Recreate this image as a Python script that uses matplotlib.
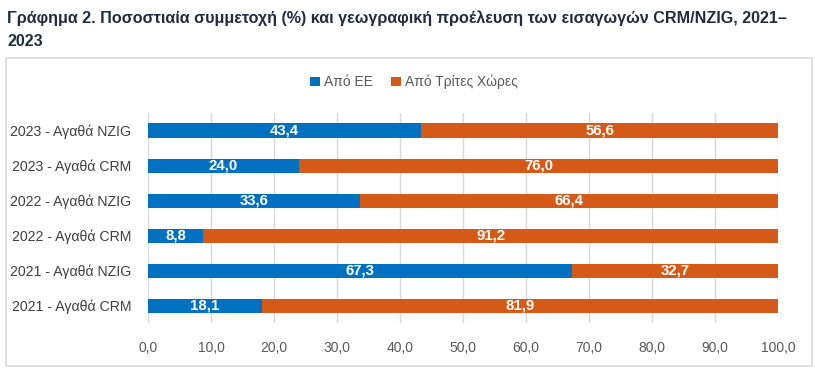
import matplotlib
matplotlib.use('Agg')
import matplotlib.pyplot as plt
from matplotlib.patches import Rectangle

# data
categories = ['2021 - Αγαθά CRM', '2021 - Αγαθά NZIG', '2022 - Αγαθά CRM',
              '2022 - Αγαθά NZIG', '2023 - Αγαθά CRM', '2023 - Αγαθά NZIG']
from_eu = [18.1, 67.3, 8.8, 33.6, 24.0, 43.4]
from_third = [81.9, 32.7, 91.2, 66.4, 76.0, 56.6]
series_names = ['Από ΕΕ', 'Από Τρίτες Χώρες']
xticks = [0, 10, 20, 30, 40, 50, 60, 70, 80, 90, 100]

blue = '#0070C0'
orange = '#D55A18'
title_col = '#1F2D3D'

plt.rcParams['font.family'] = ['Liberation Sans', 'DejaVu Sans']

fig = plt.figure(figsize=(8.15, 3.72), dpi=100)

# outer chart frame
fig.patches.append(Rectangle((6/815, 1-366/372), 806/815, 308/372, transform=fig.transFigure,
                             fill=False, edgecolor='#D9D9D9', linewidth=1.2))

fig.text(7/815, 1-18/372, 'Γράφημα 2. Ποσοστιαία συμμετοχή (%) και γεωγραφική προέλευση των εισαγωγών CRM/NZIG, 2021–',
         fontsize=11.6, fontweight='bold', color=title_col, va='center', ha='left')
fig.text(7/815, 1-42/372, '2023', fontsize=11.6, fontweight='bold', color=title_col, va='center', ha='left')

ax = fig.add_axes([148/815, 1-323/372, 630/815, 210/372])
y = list(range(len(categories)))
b1 = ax.barh(y, from_eu, height=0.4, color=blue, label=series_names[0], zorder=3)
b2 = ax.barh(y, from_third, left=from_eu, height=0.4, color=orange, label=series_names[1], zorder=3)

for i in y:
    ax.text(from_eu[i]/2, i, f'{from_eu[i]:.1f}'.replace('.', ','), color='white', fontweight='bold',
            fontsize=10.8, ha='center', va='center', zorder=4)
    ax.text(from_eu[i] + from_third[i]/2, i, f'{from_third[i]:.1f}'.replace('.', ','), color='white',
            fontweight='bold', fontsize=10.8, ha='center', va='center', zorder=4)

ax.set_xlim(0, 100)
ax.set_ylim(-0.5, len(categories) - 0.5)
ax.set_xticks(xticks)
ax.set_xticklabels([f'{t:.1f}'.replace('.', ',') for t in xticks], fontsize=10, color='#595959')
ax.set_yticks(y)
ax.set_yticklabels(categories, fontsize=10.2, color='#404040')
ax.tick_params(length=0, pad=12)
ax.tick_params(axis='x', pad=13)
ax.grid(axis='x', color='#D9D9D9', linewidth=1, zorder=0)
for s in ax.spines.values():
    s.set_visible(False)

fig.legend(handles=[b1, b2], labels=series_names, loc='center', bbox_to_anchor=(414/815, 1-82/372),
           ncol=2, frameon=False, fontsize=10, handlelength=0.7, handleheight=0.7,
           handletextpad=0.3, columnspacing=1.3, labelcolor='#595959')

fig.savefig('out.png', dpi=100)
